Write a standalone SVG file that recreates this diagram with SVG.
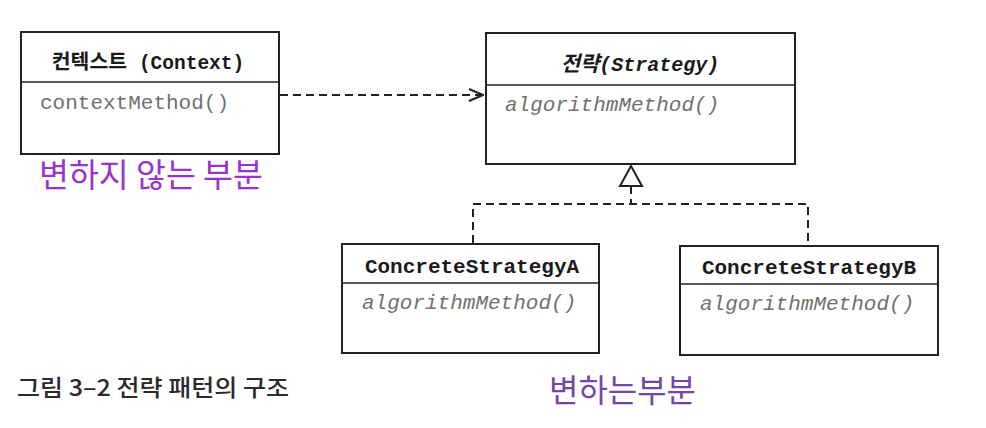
<svg xmlns="http://www.w3.org/2000/svg" width="986" height="428" viewBox="0 0 986 428">
<style>
.box{fill:#fff;stroke:#222;stroke-width:2}
.div{stroke:#222;stroke-width:1.5}
.ttl{font-family:"Liberation Mono","Noto Sans CJK KR",monospace;font-weight:bold;fill:#1a1a1a}
.kr{font-family:"Noto Sans CJK KR","Noto Sans",sans-serif}
.mth{font-family:"Liberation Mono",monospace;fill:#707070}
.dash{fill:none;stroke:#222;stroke-width:2;stroke-dasharray:8 5}
</style>
<defs>
<marker id="open" markerWidth="16" markerHeight="14" refX="15" refY="7" orient="auto" markerUnits="userSpaceOnUse">
<path d="M1,1 L15,7 L1,13" fill="none" stroke="#222" stroke-width="2"/>
</marker>
</defs>
<rect width="986" height="428" fill="#fff"/>
<g id="context">
<rect class="box" x="21" y="32" width="258" height="122"/>
<line class="div" x1="21" y1="82" x2="279" y2="82"/>
<text class="ttl" x="148" y="69" font-size="19.5" text-anchor="middle"><tspan class="kr" font-weight="bold" font-size="20.5">컨텍스트</tspan> (Context)</text>
<text class="mth" x="40" y="109" font-size="21">contextMethod()</text>
</g>
<g id="strategy">
<rect class="box" x="486" y="33" width="309" height="131"/>
<line class="div" x1="486" y1="85" x2="795" y2="85"/>
<text class="ttl" x="640" y="71" font-size="20" font-style="italic" text-anchor="middle"><tspan class="kr" font-weight="bold" font-size="21">전략</tspan>(Strategy)</text>
<text class="mth" x="505" y="111" font-size="21" font-style="italic">algorithmMethod()</text>
</g>
<g id="concreteA">
<rect class="box" x="342" y="244" width="257" height="109"/>
<line class="div" x1="342" y1="283" x2="599" y2="283"/>
<text class="ttl" x="472" y="273" font-size="21" text-anchor="middle">ConcreteStrategyA</text>
<text class="mth" x="362" y="309" font-size="21" font-style="italic">algorithmMethod()</text>
</g>
<g id="concreteB">
<rect class="box" x="680" y="246" width="258" height="109"/>
<line class="div" x1="680" y1="284" x2="938" y2="284"/>
<text class="ttl" x="809" y="274" font-size="21" text-anchor="middle">ConcreteStrategyB</text>
<text class="mth" x="700" y="310" font-size="21" font-style="italic">algorithmMethod()</text>
</g>
<g id="connectors">
<line class="dash" x1="280" y1="95" x2="483" y2="95" marker-end="url(#open)"/>
<polygon points="631,166 620,186 642,186" fill="#fff" stroke="#222" stroke-width="2"/>
<line class="dash" x1="631" y1="186" x2="631" y2="204"/>
<path class="dash" d="M473,243 L473,204 L808,204 L808,245"/>
</g>
<g id="labels">
<text class="kr" x="39" y="187" font-size="32.5" fill="#9a32cf">변하지 않는 부분</text>
<text class="kr" x="549" y="402" font-size="32" fill="#7446a8" textLength="147" lengthAdjust="spacingAndGlyphs">변하는부분</text>
<text class="kr" x="17" y="396" font-size="23" font-weight="500" fill="#2a2a2a" textLength="272" lengthAdjust="spacingAndGlyphs">그림 3–2 전략 패턴의 구조</text>
</g>
</svg>
